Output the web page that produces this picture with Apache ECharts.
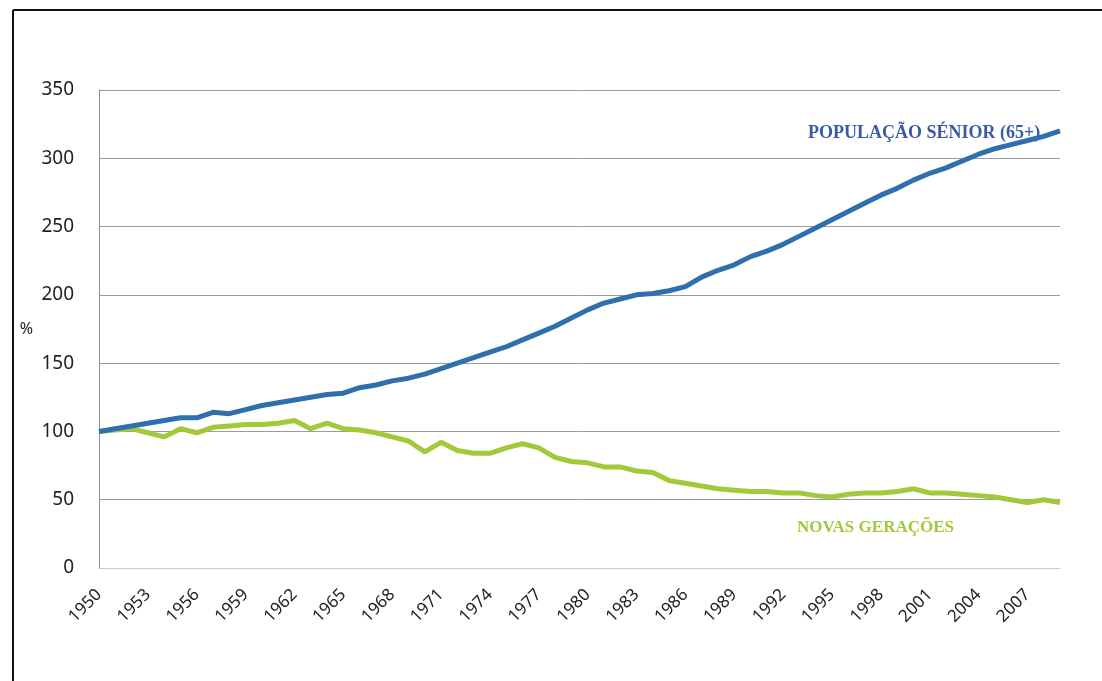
<!DOCTYPE html>
<html>
<head>
<meta charset="utf-8">
<script src="https://cdn.jsdelivr.net/npm/echarts@6/dist/echarts.min.js"></script>
<style>html,body{margin:0;padding:0;background:#fff;}#c{width:1102px;height:681px;}</style>
</head>
<body>
<div id="c"></div>
<script>
var years = [];
for (var y = 1950; y <= 2009; y++) years.push(String(y));

var senior = [100,102,104,106,108,110,110,114,113,116,
              119,121,123,125,127,128,132,134,137,139,
              142,146,150,154,158,162,167,172,177,183,
              189,194,197,200,201,203,206,213,218,222,
              228,232,237,243,249,255,261,267,273,278,
              284,289,293,298,303,307,310,313,316,320];

var novas = [100,101,102,99,96,102,99,103,104,105,
             105,106,108,102,106,102,101,99,96,93,
             85,92,86,84,84,88,91,88,81,78,
             77,74,74,71,70,64,62,60,58,57,
             56,56,55,55,53,52,54,55,55,56,
             58,55,55,54,53,52,50,48,50,48];

var yTicks = [0,50,100,150,200,250,300,350];

var chart = echarts.init(document.getElementById('c'));
chart.setOption({
  animation: false,
  backgroundColor: '#ffffff',
  grid: {left: 99, right: 42, top: 90, bottom: 113},
  xAxis: {
    type: 'category',
    data: years,
    boundaryGap: false,
    axisLine: {lineStyle: {color: '#c8c8d0', width: 1}},
    axisTick: {show: false},
    axisLabel: {interval: 2, rotate: 45, fontFamily: 'Noto Sans', fontSize: 17, color: '#222', margin: 24}
  },
  yAxis: {
    type: 'value',
    min: yTicks[0],
    max: yTicks[yTicks.length - 1],
    interval: 50,
    name: '%',
    nameLocation: 'middle',
    nameRotate: 0,
    nameGap: 66,
    nameTextStyle: {fontFamily: 'Noto Sans', fontSize: 16, color: '#222'},
    axisLine: {show: true, lineStyle: {color: '#909098', width: 1}},
    axisTick: {show: false},
    axisLabel: {fontFamily: 'Noto Sans', fontSize: 19, color: '#222', margin: 25},
    splitLine: {lineStyle: {color: '#9a9aaa', width: 1}}
  },
  series: [
    {
      name: 'POPULAÇÃO SÉNIOR (65+)',
      type: 'line',
      data: senior,
      showSymbol: false,
      lineStyle: {color: '#2e6fac', width: 5},
      z: 3
    },
    {
      name: 'NOVAS GERAÇÕES',
      type: 'line',
      data: novas,
      showSymbol: false,
      lineStyle: {color: '#a2c93a', width: 5},
      z: 2
    }
  ],
  graphic: [
    {type: 'line', shape: {x1: 13, y1: 10, x2: 1102, y2: 10}, style: {stroke: '#111', lineWidth: 2}},
    {type: 'line', shape: {x1: 13, y1: 10, x2: 13, y2: 681}, style: {stroke: '#111', lineWidth: 2}},
    {type: 'text', left: 808, top: 124, style: {text: 'POPULAÇÃO SÉNIOR (65+)', fill: '#3a5aa8', font: 'bold 18px "Liberation Serif"'}},
    {type: 'text', left: 797, top: 519, style: {text: 'NOVAS GERAÇÕES', fill: '#a2c93a', font: 'bold 17px "Liberation Serif"'}}
  ]
});
</script>
</body>
</html>
